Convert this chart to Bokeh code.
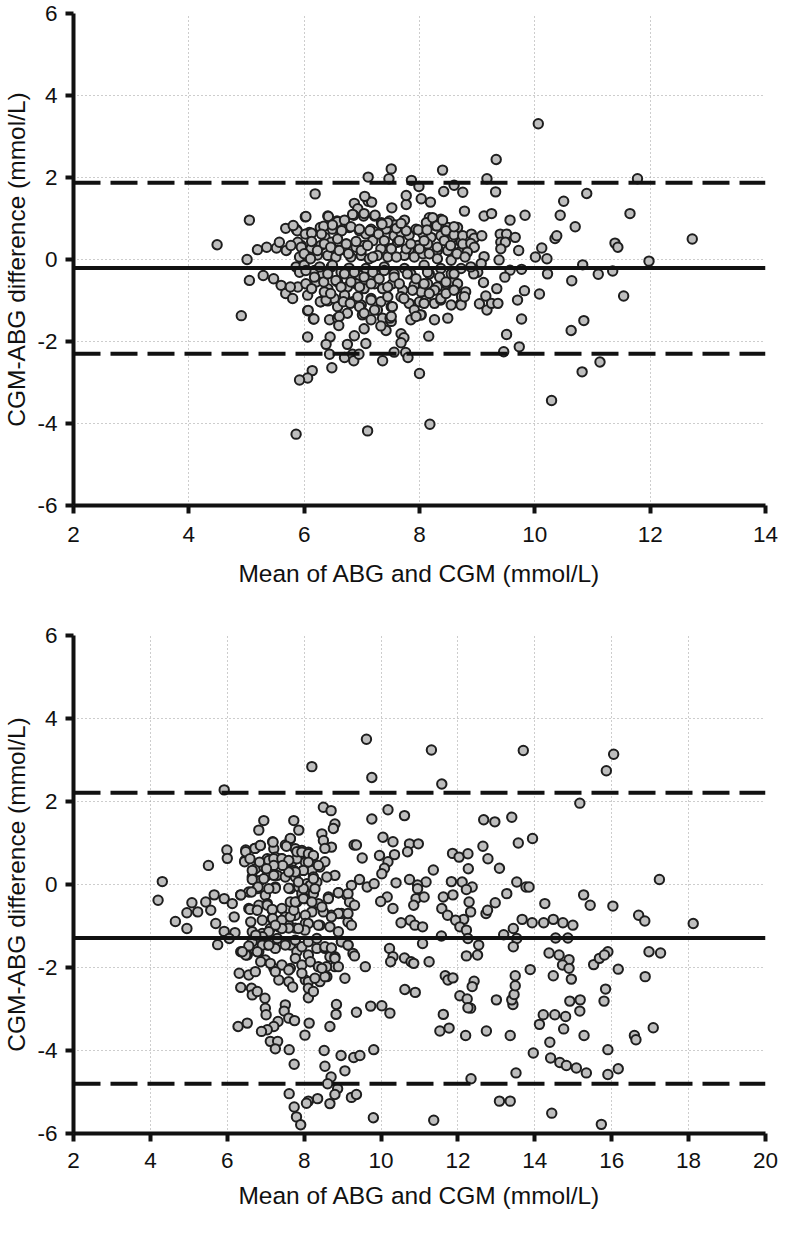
from bokeh.plotting import figure
from bokeh.models import Range1d, FixedTicker, Span, ColumnDataSource
from bokeh.layouts import column
from bokeh.embed import file_html
from bokeh.resources import INLINE

# ---------------- axis ticks / labels ----------------
top_x_ticks = [2, 4, 6, 8, 10, 12, 14]
top_x_labels = ["2", "4", "6", "8", "10", "12", "14"]
bot_x_ticks = [2, 4, 6, 8, 10, 12, 14, 16, 18, 20]
bot_x_labels = ["2", "4", "6", "8", "10", "12", "14", "16", "18", "20"]
y_ticks = [-6, -4, -2, 0, 2, 4, 6]
y_labels = ["-6", "-4", "-2", "0", "2", "4", "6"]
x_title = "Mean of ABG and CGM (mmol/L)"
y_title = "CGM-ABG difference (mmol/L)"

# bias and limits of agreement
top_bias, top_upper, top_lower = -0.21, 1.87, -2.30
bot_bias, bot_upper, bot_lower = -1.29, 2.21, -4.80

# ---------------- top panel data ----------------
top_core_x = [6.87, 7.11, 7.17, 7.52, 7.77, 8.03, 8.19, 8.78, 6.93, 6.02,
              6.41, 6.57, 6.70, 6.86, 7.03, 7.22, 7.34, 7.48, 7.58, 7.74,
              7.94, 8.17, 8.29, 8.37, 8.49, 8.66, 7.16, 5.86, 6.09, 6.28,
              6.36, 6.49, 6.64, 6.78, 6.96, 7.07, 7.22, 7.42, 7.56, 7.68,
              7.82, 8.06, 8.20, 8.37, 8.57, 8.72, 5.95, 6.12, 6.29, 6.47,
              6.58, 6.73, 6.90, 7.04, 7.19, 7.33, 7.51, 7.62, 7.82, 7.97,
              8.14, 8.31, 8.49, 8.69, 5.92, 6.09, 6.23, 6.41, 6.55, 6.81,
              6.99, 7.13, 7.27, 7.45, 7.74, 7.91, 8.06, 8.31, 8.55, 5.86,
              6.00, 6.18, 6.32, 6.47, 6.64, 6.78, 6.96, 7.07, 7.28, 7.39,
              7.56, 7.74, 7.85, 8.08, 8.17, 8.37, 8.55, 8.72, 5.89, 6.03,
              6.21, 6.41, 6.58, 6.75, 6.90, 7.04, 7.22, 7.36, 7.53, 7.71,
              7.91, 8.03, 8.14, 8.31, 8.46, 8.60, 8.75, 6.06, 6.29, 6.41,
              6.52, 6.70, 6.84, 6.99, 7.16, 7.33, 7.51, 7.68, 7.82, 8.00,
              8.11, 8.26, 8.37, 8.55, 8.72, 6.06, 6.44, 6.58, 6.75, 7.01,
              7.27, 7.36, 7.51, 7.85, 8.03, 8.26, 8.49]
top_core_y = [1.37, 1.42, 1.40, 1.26, 1.34, 1.48, 1.40, 1.18, 1.24, 1.04,
              1.06, 0.94, 0.86, 1.08, 1.06, 1.06, 0.90, 0.94, 0.84, 0.96,
              0.74, 1.02, 0.82, 0.98, 0.78, 0.78, 0.74, 0.74, 0.66, 0.78,
              0.54, 0.74, 0.70, 0.78, 0.70, 0.62, 0.67, 0.74, 0.58, 0.66,
              0.59, 0.62, 0.54, 0.58, 0.54, 0.42, 0.34, 0.26, 0.34, 0.42,
              0.22, 0.38, 0.30, 0.34, 0.46, 0.26, 0.27, 0.42, 0.24, 0.34,
              0.38, 0.22, 0.22, 0.18, 0.06, 0.06, 0.11, 0.10, 0.06, 0.06,
              0.10, 0.02, 0.10, 0.06, 0.10, 0.06, 0.14, 0.02, -0.02, -0.18,
              -0.14, -0.27, -0.35, -0.18, -0.31, -0.21, -0.39, -0.22, -0.39, -0.18,
              -0.35, -0.22, -0.35, -0.14, -0.35, -0.22, -0.35, -0.22, -0.67, -0.59,
              -0.55, -0.71, -0.55, -0.67, -0.59, -0.71, -0.59, -0.71, -0.59, -0.75,
              -0.63, -0.79, -0.59, -0.67, -0.59, -0.55, -0.83, -0.87, -1.03, -1.01,
              -0.95, -0.87, -1.03, -1.11, -0.95, -1.03, -1.15, -0.91, -1.07, -1.03,
              -0.99, -1.07, -0.99, -1.11, -1.07, -1.25, -1.47, -1.43, -1.31, -1.35,
              -1.23, -1.43, -1.51, -1.47, -1.35, -1.47, -1.43]

top_core2_x = [6.03, 6.42, 6.84, 7.04, 7.23, 6.58, 6.70, 6.34, 5.88, 6.02,
               6.13, 6.30, 6.49, 6.65, 6.81, 6.96, 7.14, 7.29, 7.45, 7.60,
               7.77, 7.98, 8.12, 8.23, 8.30, 8.40, 8.46, 8.60, 7.35, 7.68,
               8.13, 8.60, 8.75, 5.89, 5.95, 6.00, 6.11, 6.13, 6.23, 6.35,
               6.46, 6.58, 6.61, 6.73, 6.77, 6.90, 6.99, 7.10, 7.19, 7.39,
               7.51, 7.60, 7.65, 7.77, 7.85, 8.00, 8.08, 8.17, 8.31, 8.43,
               8.54, 8.65, 8.75, 5.92, 6.03, 6.13, 6.18, 6.27, 6.34, 6.41,
               6.49, 6.55, 6.64, 6.70, 6.81, 6.87, 6.96, 7.04, 7.16, 7.19,
               7.30, 7.39, 7.45, 7.56, 7.65, 7.79, 7.88, 7.94, 8.08, 8.14,
               8.26, 8.35, 8.46, 8.60, 8.66, 8.73, 6.28, 6.38, 6.58, 6.68,
               6.80, 6.93, 6.96, 7.04, 7.16, 7.22, 7.45, 7.49, 7.53, 7.73,
               7.91, 8.02, 8.08, 8.17, 8.37, 8.46, 8.60, 8.72, 6.35, 6.46,
               6.07, 6.16, 6.61, 7.16, 7.51, 7.94]
top_core2_y = [1.05, 1.05, 1.10, 1.12, 1.08, 0.92, 0.96, 0.81, 0.70, 0.62,
               0.64, 0.62, 0.84, 0.70, 0.80, 0.74, 0.70, 0.62, 0.90, 0.76,
               0.70, 0.72, 0.90, 1.02, 0.82, 0.96, 0.70, 0.60, 0.86, 0.88,
               0.72, 0.80, 0.58, 0.42, 0.30, 0.14, 0.02, 0.44, 0.22, 0.38,
               0.30, 0.50, 0.22, 0.38, 0.14, 0.44, 0.22, 0.34, 0.06, 0.46,
               0.26, 0.06, 0.46, 0.26, 0.38, 0.26, 0.46, 0.14, 0.30, 0.46,
               0.34, 0.14, 0.38, -0.31, -0.27, -0.71, -0.43, -0.18, -0.55, -0.35,
               -0.14, -0.51, -0.67, -0.35, -0.55, -0.31, -0.67, -0.43, -0.59, -0.31,
               -0.47, -0.27, -0.67, -0.43, -0.59, -0.35, -0.75, -0.47, -0.59, -0.31,
               -0.75, -0.43, -0.55, -0.35, -0.59, -0.91, -1.03, -0.99, -1.15, -1.03,
               -1.07, -0.91, -1.15, -1.31, -0.99, -1.23, -0.91, -1.43, -1.15, -0.95,
               -1.23, -1.35, -1.07, -0.83, -0.95, -0.83, -0.75, -1.11, -0.79, -0.83,
               -1.24, -1.45, -1.39, -1.47, -1.39, -1.39]

top_left_x = [4.49, 5.05, 5.01, 5.05, 5.19, 5.35, 5.52, 5.57, 5.69, 5.77,
              5.68, 5.81, 5.29, 5.47, 5.60, 5.68, 5.76, 5.80, 4.91]
top_left_y = [0.36, 0.96, 0.00, -0.51, 0.24, 0.30, 0.28, 0.42, 0.22, 0.34,
              0.76, 0.83, -0.39, -0.47, -0.63, -0.83, -0.67, -0.95, -1.37]

top_high_x = [7.51, 8.40, 7.11, 7.47, 7.86, 7.99, 8.60, 6.19, 7.77, 8.42, 8.75, 7.05]
top_high_y = [2.21, 2.18, 2.01, 1.97, 1.93, 1.78, 1.81, 1.60, 1.56, 1.66, 1.64, 1.54]

top_low_x = [6.60, 6.06, 6.45, 6.38, 6.75, 6.87, 7.04, 7.07, 6.44, 6.48,
             6.70, 6.84, 6.86, 6.95, 7.36, 7.56, 7.68, 7.73, 7.68, 7.76,
             7.80, 7.42, 7.33, 8.16, 8.00, 6.14, 6.06, 5.92, 5.86, 7.10,
             8.18, 6.17]
top_low_y = [-1.61, -1.89, -1.89, -2.07, -2.07, -1.86, -1.69, -2.05, -2.31, -2.64,
             -2.39, -2.31, -2.47, -2.31, -2.47, -2.26, -1.81, -1.91, -2.03, -2.27,
             -2.39, -1.73, -1.62, -1.87, -2.78, -2.71, -2.89, -2.94, -4.26, -4.18,
             -4.02, -1.45]

top_right_x = [10.06, 9.33, 9.17, 11.78, 9.32, 10.90, 10.50, 9.12, 9.25, 9.57,
               9.83, 10.44, 10.70, 11.65, 12.73, 10.35, 10.38, 11.39, 11.44, 8.90,
               8.95, 9.08, 9.40, 9.51, 9.41, 9.49, 9.66, 9.41, 9.72, 9.12,
               9.38, 10.01, 10.12, 10.21, 10.83, 11.98, 9.57, 9.48, 9.77, 10.22,
               9.11, 9.34, 10.64, 11.10, 11.35, 9.82, 9.70, 10.08, 11.54, 9.15,
               9.04, 9.17, 9.25, 9.36, 9.77, 10.85, 10.63, 9.51, 9.73, 9.46,
               11.13, 10.82, 10.29, 8.89, 8.95, 9.07, 9.01, 8.94, 8.89, 8.83,
               8.80, 8.78, 8.79]
top_right_y = [3.31, 2.44, 1.97, 1.97, 1.65, 1.61, 1.42, 1.06, 1.12, 0.96,
               1.08, 1.08, 0.80, 1.12, 0.50, 0.51, 0.58, 0.40, 0.30, 0.62,
               0.52, 0.58, 0.62, 0.62, 0.42, 0.42, 0.54, 0.26, 0.22, 0.07,
               -0.01, 0.06, 0.28, 0.02, -0.13, -0.04, -0.26, -0.43, -0.24, -0.35,
               -0.56, -0.71, -0.52, -0.36, -0.28, -0.76, -0.99, -0.84, -0.89, -0.89,
               -1.08, -1.23, -1.07, -1.07, -1.45, -1.49, -1.73, -1.83, -2.13, -2.25,
               -2.50, -2.74, -3.44, 0.39, 0.30, -0.10, -0.31, -0.35, -0.18, 0.18,
               -0.79, -0.91, 0.06]

# ---------------- bottom panel data ----------------
bot_core_x = [6.95, 6.82, 7.73, 7.86, 8.50, 8.70, 8.80, 8.76, 8.46, 8.50,
              8.71, 8.54, 9.30, 5.99, 6.00, 6.48, 6.72, 6.86, 6.46, 7.18,
              7.21, 7.51, 7.64, 7.77, 7.94, 8.11, 8.24, 8.41, 8.54, 8.80,
              8.59, 5.51, 7.04, 7.25, 7.42, 7.68, 8.03, 7.81, 6.73, 6.95,
              7.21, 7.47, 7.73, 7.98, 8.20, 8.24, 8.33, 8.07, 6.65, 6.86,
              7.04, 7.30, 7.51, 7.77, 9.23, 7.25, 7.64, 7.86, 7.94, 8.16,
              5.23, 5.44, 5.66, 5.92, 6.13, 6.35, 6.56, 6.78, 6.99, 5.57,
              6.18, 6.56, 6.82, 7.04, 7.17, 7.42, 7.64, 7.81, 8.03, 8.24,
              8.37, 8.63, 8.89, 9.10, 9.18, 8.97, 8.71, 8.50, 8.20, 8.03,
              7.77, 7.51, 7.17, 6.91, 6.61, 5.70, 5.92, 6.20, 6.65, 6.91,
              7.12, 7.34, 7.60, 7.77, 8.03, 8.41, 8.67, 8.89, 9.14, 9.23,
              5.75, 6.05, 6.35, 6.52, 6.65, 6.82, 7.04, 7.25, 7.42, 7.64,
              7.81, 7.94, 8.11, 8.33, 8.54, 8.67, 8.80, 8.97, 9.14, 9.27,
              6.99, 7.21, 7.42, 7.64, 7.77, 7.94, 8.16, 8.37, 8.80, 6.31,
              6.56, 6.73, 7.34, 7.60, 8.03, 8.41, 8.59, 9.06]
bot_core_y = [1.54, 1.31, 1.54, 1.31, 1.86, 1.78, 1.46, 1.35, 1.22, 1.06,
              0.90, 0.87, 0.95, 0.83, 0.63, 0.83, 0.87, 0.94, 0.58, 1.03,
              0.86, 0.95, 1.10, 0.86, 0.82, 0.78, 0.68, 0.42, 0.55, 0.22,
              0.18, 0.46, 0.62, 0.66, 0.62, 0.54, 0.54, 0.62, 0.38, 0.42,
              0.47, 0.46, 0.34, 0.34, 0.34, 0.18, 0.06, 0.02, 0.18, 0.10,
              0.22, 0.22, 0.18, 0.18, -0.02, -0.06, -0.10, -0.06, -0.22, -0.02,
              -0.66, -0.42, -0.25, -0.34, -0.46, -0.25, -0.18, -0.10, -0.26, -0.62,
              -0.78, -0.58, -0.50, -0.46, -0.62, -0.58, -0.42, -0.42, -0.34, -0.22,
              -0.46, -0.30, -0.20, -0.25, -0.42, -0.70, -0.74, -0.66, -0.66, -0.74,
              -0.74, -0.78, -0.82, -0.86, -0.90, -0.94, -1.13, -1.16, -1.14, -1.18,
              -1.06, -1.02, -0.98, -1.05, -0.94, -0.98, -1.02, -1.14, -0.90, -0.98,
              -1.45, -1.30, -1.62, -1.70, -1.38, -1.62, -1.46, -1.54, -1.38, -1.46,
              -1.62, -1.50, -1.70, -1.54, -1.54, -1.74, -1.74, -1.38, -1.46, -1.66,
              -1.82, -2.02, -1.94, -2.02, -1.78, -1.94, -1.86, -1.98, -1.98, -2.14,
              -2.18, -2.10, -2.30, -2.34, -2.30, -2.34, -2.22, -2.26]

bot_core2_x = [7.19, 7.64, 7.54, 6.72, 6.86, 6.48, 6.45, 6.59, 6.84, 7.08,
               7.21, 7.42, 7.60, 7.81, 7.94, 8.11, 8.24, 8.37, 8.11, 7.98,
               7.77, 7.60, 7.44, 7.21, 7.02, 6.65, 6.65, 6.95, 7.21, 7.25,
               7.08, 6.80, 6.63, 6.35, 6.59, 6.78, 7.04, 7.17, 7.18, 7.42,
               7.64, 7.73, 7.77, 7.98, 8.20, 8.24, 8.28, 7.98, 7.85, 7.60,
               8.63, 8.89, 9.14, 9.31, 9.14, 8.89, 8.71, 8.46, 8.37, 8.11,
               8.02, 7.85, 7.60, 7.42, 7.25, 7.08, 6.91, 6.74, 6.91, 7.08,
               7.30, 7.51, 7.77, 8.11, 8.33, 8.54, 8.71, 8.97, 9.14, 6.48,
               6.56, 6.39, 6.78, 6.87, 7.12, 7.25, 7.60, 7.94, 8.11, 8.28,
               8.54, 8.58, 8.80, 8.89, 8.46]
bot_core2_y = [1.02, 1.11, 0.92, 0.87, 0.94, 0.79, 0.55, 0.62, 0.54, 0.58,
               0.62, 0.62, 0.58, 0.79, 0.78, 0.74, 0.70, 0.46, 0.54, 0.34,
               0.30, 0.30, 0.46, 0.46, 0.38, 0.34, 0.12, 0.14, 0.22, -0.09,
               -0.10, -0.06, -0.18, -0.25, -0.60, -0.62, -0.50, -0.60, -0.82, -0.86,
               -0.78, -0.62, -0.42, -0.34, -0.42, 0.14, -0.10, -0.10, 0.06, -0.09,
               -0.34, -0.20, -0.22, -0.50, -0.70, -0.70, -0.78, -0.54, -0.98, -0.94,
               -1.10, -1.06, -1.05, -1.06, -0.98, -1.14, -1.26, -1.22, -1.46, -1.46,
               -1.30, -1.46, -1.34, -1.38, -1.30, -1.50, -1.53, -1.38, -1.46, -1.70,
               -1.48, -1.62, -1.62, -1.86, -1.90, -2.10, -2.06, -2.14, -2.34, -2.26,
               -2.22, -1.98, -1.78, -1.98, -2.02]

bot_side_x = [5.92, 8.20, 9.62, 9.76, 9.76, 9.36, 9.51, 9.96, 9.64, 9.82,
              9.44, 9.59, 9.31, 9.73, 9.36, 4.31, 4.20, 4.65, 4.95, 4.95,
              5.08]
bot_side_y = [2.28, 2.84, 3.50, 2.58, 1.58, 0.95, 0.64, 0.70, -0.06, 0.02,
              0.12, -1.98, -1.72, -2.93, -3.08, 0.07, -0.38, -0.89, -1.06, -0.68,
              -0.44]

bot_low_x = [6.35, 6.63, 6.65, 6.78, 6.98, 6.99, 7.01, 7.51, 7.48, 7.60,
             7.75, 7.32, 7.21, 7.04, 6.89, 6.28, 6.52, 8.13, 8.67, 8.84,
             8.83, 8.11, 8.11, 8.24, 7.70,
             7.12, 7.31, 7.25, 7.61, 7.74, 8.02, 8.52, 8.54, 8.96, 9.06,
             9.29, 9.45, 9.81, 8.70, 8.61, 8.87, 8.80, 8.67, 9.23, 9.36,
             8.35, 8.11, 8.06, 7.61, 7.74, 7.80, 7.91, 9.80]
bot_low_y = [-2.48, -2.50, -2.66, -2.58, -2.74, -2.98, -3.14, -2.90, -3.05, -3.22,
             -3.28, -3.30, -3.42, -3.50, -3.54, -3.42, -3.34, -3.34, -3.42, -2.89,
             -3.13, -2.50, -2.73, -2.58, -2.47,
             -3.78, -3.78, -3.96, -3.98, -4.33, -3.63, -4.00, -4.38, -4.12, -4.49,
             -4.17, -4.12, -3.98, -4.64, -4.80, -4.92, -5.06, -5.28, -5.13, -5.06,
             -5.16, -5.22, -5.27, -5.04, -5.36, -5.60, -5.79, -5.62]

bot_right_x = [11.31, 13.70, 16.05, 15.86, 11.58, 15.17, 10.18, 10.61, 12.67, 12.96,
               13.40, 10.05, 10.31, 10.74, 10.97, 10.69, 10.18, 10.35, 10.09, 10.02,
               11.86, 12.03, 12.26, 12.65, 12.78, 13.08, 13.57, 13.94, 11.36, 12.27,
               11.83, 12.11, 12.37, 12.22, 11.17, 10.95, 10.74, 10.39, 10.95, 10.91,
               10.85, 11.12, 10.16, 9.99, 10.31, 10.76, 10.52, 10.88, 11.08, 11.58,
               11.62, 11.87, 12.29, 12.33, 12.15, 11.73, 11.94, 12.05, 12.22, 11.57,
               12.26, 12.73, 12.77, 13.27, 12.97, 13.53, 13.77, 13.85, 14.26, 15.27,
               15.44, 16.03, 13.67, 13.93, 14.23, 14.48, 14.73, 14.99, 13.44, 13.19,
               13.53, 14.54, 14.86, 13.44, 12.54, 12.22, 12.51, 10.22, 10.31, 10.25,
               10.61, 10.78, 10.85, 11.25, 11.08, 14.37, 14.63, 14.89, 14.72, 14.89,
               14.95, 14.48, 13.88, 15.53, 15.68, 15.90, 15.81, 16.17, 16.97, 17.27,
               16.87, 17.24, 18.12, 16.70, 16.86]
bot_right_y = [3.24, 3.23, 3.14, 2.74, 2.42, 1.96, 1.80, 1.66, 1.56, 1.51,
               1.62, 1.14, 1.03, 0.98, 0.98, 0.79, 0.55, 0.72, 0.39, 0.26,
               0.75, 0.66, 0.74, 0.92, 0.62, 0.39, 1.00, 1.11, 0.35, 0.38,
               0.07, 0.06, -0.06, -0.12, 0.06, -0.01, 0.12, 0.04, -0.10, -0.34,
               -0.50, -0.30, -0.30, -0.41, -0.58, -0.86, -0.92, -0.98, -1.02, -0.58,
               -0.30, -0.25, -0.42, -0.66, -0.84, -0.74, -0.86, -1.02, -1.10, -1.24,
               -1.30, -0.70, -0.62, -0.22, -0.44, 0.06, -0.06, -0.06, -0.46, -0.25,
               -0.50, -0.52, -0.84, -0.92, -0.92, -0.84, -0.92, -0.98, -1.06, -1.21,
               -1.30, -1.29, -1.29, -1.50, -1.46, -1.72, -1.70, -1.54, -1.74, -1.86,
               -1.77, -1.86, -1.90, -1.86, -1.42, -1.65, -1.70, -1.81, -1.94, -2.02,
               -2.28, -2.20, -2.05, -1.93, -1.78, -1.62, -1.70, -2.04, -1.62, -1.65,
               -2.22, 0.12, -0.94, -0.74, -0.88]

bot_right_low_x = [11.67, 11.74, 11.87, 12.05, 12.24, 12.33, 12.42, 12.37, 12.26, 12.20,
                   11.53, 11.77, 11.62, 10.62, 10.89, 10.02, 10.23, 12.74, 13.00, 13.36,
                   13.43, 13.40, 13.46, 13.49, 13.49, 13.51, 12.34, 13.08, 13.36, 13.96,
                   14.12, 14.22, 14.52, 14.80, 14.75, 14.39, 14.41, 14.65, 14.82, 15.08,
                   15.34, 14.91, 15.18, 15.17, 15.28, 15.84, 15.80, 15.90, 15.90, 16.17,
                   16.59, 16.63, 17.08, 11.37, 14.44, 15.73]
bot_right_low_y = [-2.20, -2.30, -2.25, -2.68, -2.76, -2.98, -2.33, -2.46, -2.97, -3.64,
                   -3.53, -3.46, -3.13, -2.53, -2.60, -2.92, -3.10, -3.53, -2.78, -3.64,
                   -2.89, -2.78, -2.65, -2.44, -2.20, -4.54, -4.68, -5.22, -5.22, -4.06,
                   -3.37, -3.14, -3.14, -3.18, -3.48, -3.80, -4.18, -4.29, -4.36, -4.42,
                   -4.54, -2.81, -2.78, -3.05, -3.64, -2.52, -2.81, -3.98, -4.58, -4.44,
                   -3.64, -3.74, -3.45, -5.68, -5.51, -5.78]

# ---------------- styling ----------------
FONT = "Liberation Sans"
INK = "#111111"


def make_panel(xs, ys, x_end, x_ticks, x_labels, bias, upper, lower,
               width, height, b_left, b_right, b_top, b_bottom,
               xl_standoff, xa_standoff):
    p = figure(width=width, height=height,
               x_range=Range1d(2, x_end), y_range=Range1d(-6, 6),
               output_backend="svg", toolbar_location=None,
               min_border_left=b_left, min_border_right=b_right,
               min_border_top=b_top, min_border_bottom=b_bottom)
    p.outline_line_color = None
    p.background_fill_color = "white"
    p.border_fill_color = "white"

    p.xgrid.ticker = FixedTicker(ticks=x_ticks)
    p.ygrid.ticker = FixedTicker(ticks=y_ticks)
    for g in (p.xgrid, p.ygrid):
        g.grid_line_color = "#9a9a9a"
        g.grid_line_dash = "1 3"
        g.grid_line_width = 1

    p.xaxis.ticker = FixedTicker(ticks=x_ticks)
    p.yaxis.ticker = FixedTicker(ticks=y_ticks)
    p.xaxis.major_label_overrides = {t: s for t, s in zip(x_ticks, x_labels)}
    p.yaxis.major_label_overrides = {t: s for t, s in zip(y_ticks, y_labels)}
    p.xaxis.axis_label = x_title
    p.yaxis.axis_label = y_title
    for ax in (p.xaxis, p.yaxis):
        ax.axis_line_width = 4
        ax.axis_line_color = INK
        ax.major_tick_line_width = 4
        ax.major_tick_line_color = INK
        ax.major_tick_in = 0
        ax.minor_tick_line_color = None
        ax.major_label_text_font = FONT
        ax.major_label_text_font_size = "22.5px"
        ax.major_label_text_color = INK
        ax.axis_label_text_font = FONT
        ax.axis_label_text_font_size = "24.5px"
        ax.axis_label_text_font_style = "normal"
        ax.axis_label_text_color = INK
    p.xaxis.major_tick_out = 8
    p.xaxis.major_label_standoff = xl_standoff
    p.xaxis.axis_label_standoff = xa_standoff
    p.yaxis.major_tick_out = 8
    p.yaxis.major_label_standoff = 8
    p.yaxis.axis_label_standoff = 4

    src = ColumnDataSource(data=dict(x=xs, y=ys))
    p.scatter(x="x", y="y", source=src, marker="circle", size=9.4,
              fill_color="#bebebe", line_color="#1e1e1e", line_width=2)

    p.add_layout(Span(location=bias, dimension="width", line_color=INK, line_width=4))
    p.add_layout(Span(location=upper, dimension="width", line_color=INK,
                      line_width=4, line_dash="27 10"))
    p.add_layout(Span(location=lower, dimension="width", line_color=INK,
                      line_width=4, line_dash="27 10"))
    return p


top_x = top_core_x + top_core2_x + top_left_x + top_high_x + top_low_x + top_right_x
top_y = top_core_y + top_core2_y + top_left_y + top_high_y + top_low_y + top_right_y
bot_x = bot_core_x + bot_core2_x + bot_side_x + bot_low_x + bot_right_x + bot_right_low_x
bot_y = bot_core_y + bot_core2_y + bot_side_y + bot_low_y + bot_right_y + bot_right_low_y

p1 = make_panel(top_x, top_y, 14, top_x_ticks, top_x_labels,
                top_bias, top_upper, top_lower,
                width=779, height=612, b_left=72, b_right=14, b_top=13, b_bottom=107,
                xl_standoff=13, xa_standoff=15)
p2 = make_panel(bot_x, bot_y, 20, bot_x_ticks, bot_x_labels,
                bot_bias, bot_upper, bot_lower,
                width=779, height=610, b_left=70, b_right=11, b_top=23, b_bottom=89,
                xl_standoff=11, xa_standoff=11)

layout = column(p1, p2)
open("out.html", "w").write(file_html(layout, INLINE))
